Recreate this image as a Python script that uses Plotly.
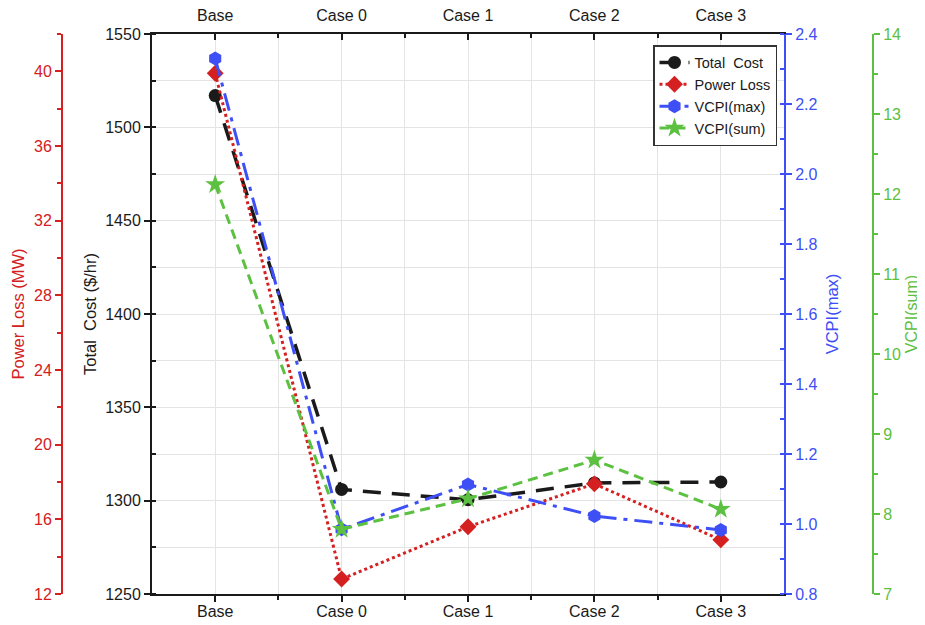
import plotly.graph_objects as go

categories = ["Base", "Case 0", "Case 1", "Case 2", "Case 3"]
total_cost = [1517, 1306, 1300.5, 1309.5, 1310]
power_loss = [39.9, 12.8, 15.6, 17.9, 14.9]
vcpi_max = [2.33, 0.985, 1.113, 1.023, 0.983]
vcpi_sum = [12.12, 7.81, 8.19, 8.675, 8.06]

xi = list(range(len(categories)))

BLACK = "#1a1a1a"
RED = "#d42020"
BLUE = "#3d4ff5"
GREEN = "#5cc040"
FONT = "Liberation Sans, Arial, sans-serif"
GRID = "#e4e4e4"

# The page body has an 8px margin; the figure is sized to fit the window.
W, H = 917, 617
PL, PR, PT, PB = 144, 776, 26, 586

fig = go.Figure()
fig.add_trace(go.Scatter(x=xi, y=total_cost, name="Total  Cost", yaxis="y",
                         mode="lines+markers",
                         line=dict(color=BLACK, width=3.5, dash="18px,11px"),
                         marker=dict(symbol="circle", size=13, color=BLACK)))
fig.add_trace(go.Scatter(x=xi, y=power_loss, name="Power Loss", yaxis="y2",
                         mode="lines+markers",
                         line=dict(color=RED, width=3, dash="dot"),
                         marker=dict(symbol="diamond", size=13, color=RED)))
fig.add_trace(go.Scatter(x=xi, y=vcpi_max, name="VCPI(max)", yaxis="y3",
                         mode="lines+markers",
                         line=dict(color=BLUE, width=3, dash="18px,7px,4px,7px"),
                         marker=dict(symbol="hexagon", size=14, color=BLUE)))
fig.add_trace(go.Scatter(x=xi, y=vcpi_sum, name="VCPI(sum)", yaxis="y4",
                         mode="lines+markers",
                         line=dict(color=GREEN, width=3, dash="10px,6px"),
                         marker=dict(symbol="star", size=15, color=GREEN)))
# invisible carrier so the top category axis is drawn
fig.add_trace(go.Scatter(x=xi, y=total_cost, xaxis="x2", yaxis="y", mode="markers",
                         marker=dict(opacity=0), showlegend=False, hoverinfo="skip"))

xdom = [PL / W, PR / W]
plot_h = PB - PT

def tf(c, s=16):
    return dict(family=FONT, size=s, color=c)

TS = 16.5

fig.update_layout(
    width=W, height=H,
    margin=dict(l=0, r=0, t=PT, b=H - PB),
    paper_bgcolor="white", plot_bgcolor="white",
    font=dict(family=FONT, size=15, color=BLACK),
    showlegend=True,
    legend=dict(x=769 / W, xanchor="right", y=(PB - 37) / plot_h, yanchor="top",
                bgcolor="white", bordercolor="#333", borderwidth=1.5,
                font=tf(BLACK, 14.5), tracegroupgap=0),
    xaxis=dict(domain=xdom, range=[-0.5, 4.5], tickvals=xi, ticktext=categories,
               showline=True, linecolor=BLACK, linewidth=2,
               ticks="outside", ticklen=6, tickcolor=BLACK, tickwidth=1.5,
               tickfont=tf(BLACK), ticklabelstandoff=-4,
               showgrid=True, gridcolor=GRID, gridwidth=1, zeroline=False,
               minor=dict(tickvals=[i + 0.5 for i in xi[:-1]], ticks="outside", ticklen=4,
                          tickcolor=BLACK, showgrid=True, gridcolor=GRID)),
    xaxis2=dict(overlaying="x", side="top", anchor="y", range=[-0.5, 4.5],
                tickvals=xi, ticktext=categories,
                showline=True, linecolor=BLACK, linewidth=2,
                ticks="inside", ticklen=6, tickcolor=BLACK, tickwidth=1.5,
                tickfont=tf(BLACK), ticklabelstandoff=5,
                showgrid=False, zeroline=False,
                minor=dict(tickvals=[i + 0.5 for i in xi[:-1]], ticks="inside", ticklen=4,
                           tickcolor=BLACK)),
    yaxis=dict(range=[1250, 1550], dtick=50, tick0=1250,
               showline=True, linecolor=BLACK, linewidth=2,
               ticks="outside", ticklen=6, tickcolor=BLACK, tickwidth=1.5,
               tickfont=tf(BLACK),
               showgrid=True, gridcolor=GRID, zeroline=False,
               minor=dict(dtick=25, tick0=1250, ticks="inside", ticklen=4, tickcolor=BLACK,
                          showgrid=True, gridcolor=GRID),
               title=dict(text="Total  Cost ($/hr)", font=tf(BLACK, TS), standoff=4)),
    yaxis2=dict(overlaying="y", anchor="free", position=54 / W, side="left",
                range=[12, 42], dtick=4, tick0=12,
                showline=True, linecolor=RED, linewidth=2,
                ticks="outside", ticklen=6, tickcolor=RED, tickwidth=1.5,
                tickfont=tf(RED),
                showgrid=False, zeroline=False,
                minor=dict(dtick=2, tick0=12, ticks="outside", ticklen=4, tickcolor=RED),
                title=dict(text="Power Loss (MW)", font=tf(RED, TS), standoff=4)),
    yaxis3=dict(overlaying="y", anchor="x", side="right",
                range=[0.8, 2.4], dtick=0.2, tick0=0.8, tickformat=".1f",
                showline=True, linecolor=BLUE, linewidth=2,
                ticks="outside", ticklen=6, tickcolor=BLUE, tickwidth=1.5,
                tickfont=tf(BLUE),
                showgrid=False, zeroline=False,
                minor=dict(dtick=0.1, tick0=0.8, ticks="inside", ticklen=4, tickcolor=BLUE),
                title=dict(text="VCPI(max)", font=tf(BLUE, TS), standoff=10)),
    yaxis4=dict(overlaying="y", anchor="free", position=865 / W, side="right",
                range=[7, 14], dtick=1, tick0=7,
                showline=True, linecolor=GREEN, linewidth=2,
                ticks="outside", ticklen=6, tickcolor=GREEN, tickwidth=1.5,
                tickfont=tf(GREEN),
                showgrid=False, zeroline=False,
                minor=dict(dtick=0.5, tick0=7, ticks="outside", ticklen=4, tickcolor=GREEN),
                title=dict(text="VCPI(sum)", font=tf(GREEN, 16), standoff=5)),
)

fig.write_html("out.html")
